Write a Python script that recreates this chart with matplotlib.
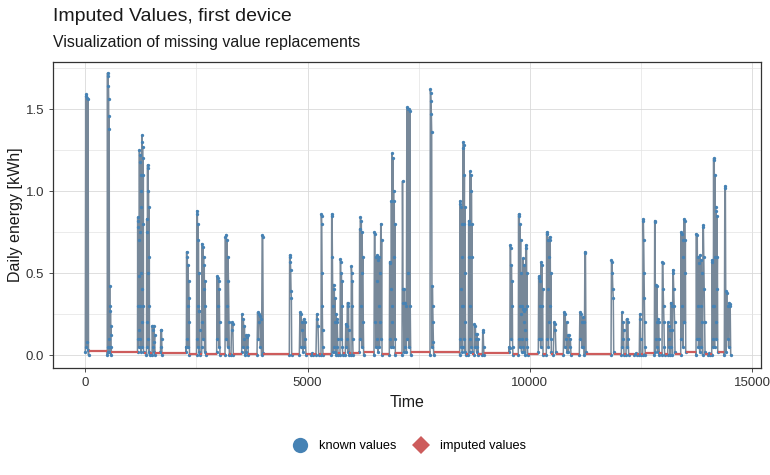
import numpy as np
import matplotlib
matplotlib.use('Agg')
import matplotlib.pyplot as plt
from matplotlib.lines import Line2D

plt.rcParams['font.family'] = ['Liberation Sans', 'DejaVu Sans']

# ── data ─────────────────────────────────────────────────────────────────────
# each burst of known readings: start / end time and the readings in order
burst_start = [0, 495, 1174, 1376, 1500, 1691, 2265, 2501, 2618, 2955,
               3142, 3277, 3517, 3862, 4588, 4813, 5076, 5188, 5301, 5533,
               5728, 5847, 5976, 6162, 6493, 6837, 7123, 7752, 8420, 8614,
               8742, 8929, 9529, 9738, 10188, 10368, 10525, 10750, 11110, 11823,
               12055, 12160, 12347, 12459, 12536, 12797, 12970, 13098, 13391, 13735,
               14005, 14088, 14371]
burst_end = [72, 585, 1309, 1444, 1568, 1725, 2343, 2580, 2708, 3029,
             3239, 3329, 3666, 4003, 4642, 4964, 5121, 5249, 5346, 5683,
             5789, 5937, 6021, 6261, 6673, 6972, 7318, 7836, 8555, 8704,
             8839, 8967, 9619, 9950, 10294, 10480, 10586, 10923, 11261, 11884,
             12115, 12221, 12401, 12498, 12594, 12909, 13031, 13262, 13503, 13937,
             14050, 14223, 14515]
burst_values = [
    [0.02, 1.58, 0.05, 1.59, 0.08, 1.57, 0.03, 1.56, 0.0],
    [0.0, 1.72, 0.02, 1.70, 0.05, 1.64, 1.56, 0.10, 1.46, 1.38, 0.02, 0.42, 0.05, 0.30, 0.02, 0.27, 0.12, 0.18, 0.0, 0.05],
    [0.02, 0.84, 0.10, 0.82, 0.30, 0.78, 0.05, 0.70, 0.48, 0.15, 1.25, 0.30, 1.22, 0.10, 1.18, 0.75, 1.10, 0.02, 1.00, 0.50,
     0.90, 0.20, 1.34, 0.40, 1.30, 0.05, 1.27, 0.80, 1.20, 0.30, 1.10, 0.02],
    [0.0, 0.83, 0.20, 0.75, 0.05, 1.16, 0.50, 1.14, 0.10, 1.00, 0.30, 0.90, 0.02, 0.60, 0.0],
    [0.0, 0.18, 0.05, 0.15, 0.02, 0.18, 0.08, 0.12, 0.0],
    [0.02, 0.15, 0.05, 0.15, 0.10, 0.0],
    [0.05, 0.02, 0.63, 0.10, 0.60, 0.30, 0.55, 0.05, 0.45, 0.20, 0.35, 0.0],
    [0.0, 0.88, 0.10, 0.86, 0.30, 0.80, 0.05, 0.70, 0.27, 0.50, 0.02, 0.27, 0.15, 0.0],
    [0.05, 0.68, 0.20, 0.66, 0.10, 0.60, 0.40, 0.55, 0.02, 0.45, 0.30, 0.0],
    [0.02, 0.48, 0.10, 0.47, 0.30, 0.45, 0.05, 0.40, 0.20, 0.0],
    [0.0, 0.72, 0.10, 0.735, 0.30, 0.70, 0.05, 0.60, 0.45, 0.20, 0.0],
    [0.0, 0.20, 0.15, 0.19, 0.0],
    [0.02, 0.25, 0.05, 0.22, 0.10, 0.18, 0.0, 0.12, 0.02, 0.11, 0.05, 0.12, 0.0],
    [0.0, 0.26, 0.10, 0.25, 0.20, 0.24, 0.05, 0.22, 0.0, 0.73, 0.72, 0.01],
    [0.0, 0.61, 0.60, 0.57, 0.52, 0.39, 0.35, 0.0],
    [0.0, 0.26, 0.05, 0.25, 0.15, 0.20, 0.02, 0.22, 0.05, 0.20, 0.10, 0.0],
    [0.0, 0.01, 0.0],
    [0.0, 0.25, 0.22, 0.18, 0.0],
    [0.0, 0.86, 0.85, 0.80, 0.50, 0.30, 0.15, 0.05, 0.0],
    [0.0, 0.86, 0.85, 0.60, 0.30, 0.02, 0.43, 0.05, 0.40, 0.20, 0.35, 0.02, 0.25, 0.0, 0.22, 0.05, 0.20, 0.10, 0.0],
    [0.0, 0.585, 0.57, 0.10, 0.50, 0.30, 0.45, 0.05, 0.0],
    [0.0, 0.19, 0.05, 0.18, 0.10, 0.32, 0.02, 0.30, 0.15, 0.0],
    [0.0, 0.54, 0.50, 0.30, 0.45, 0.10, 0.0],
    [0.02, 0.77, 0.10, 0.84, 0.30, 0.82, 0.05, 0.75, 0.50, 0.60, 0.20, 0.0],
    [0.0, 0.75, 0.74, 0.20, 0.60, 0.05, 0.45, 0.10, 0.61, 0.02, 0.58, 0.30, 0.60, 0.05, 0.50, 0.20, 0.80, 0.10, 0.70, 0.0],
    [0.0, 0.57, 0.56, 0.10, 0.40, 0.05, 0.94, 0.20, 1.23, 0.30, 1.20, 0.05, 1.00, 0.60, 0.94, 0.10, 0.80, 0.0],
    [0.0, 1.06, 0.40, 0.32, 0.02, 0.40, 0.05, 0.32, 0.30, 0.02, 1.51, 0.10, 1.50, 0.50, 1.50, 0.05, 1.49, 0.30, 0.0],
    [0.0, 1.62, 1.60, 1.55, 1.47, 1.36, 0.05, 0.42, 0.30, 0.20, 0.08, 0.0],
    [0.0, 0.94, 0.10, 0.92, 0.40, 0.90, 0.05, 0.80, 0.60, 0.30, 0.02, 0.05, 1.26, 0.30, 1.30, 0.10, 1.28, 0.80, 1.10, 0.02,
     0.90, 0.50, 0.20, 0.0],
    [0.0, 0.82, 0.80, 0.60, 0.02, 0.10, 1.12, 0.30, 1.10, 0.05, 1.00, 0.60, 0.80, 0.02],
    [0.0, 0.187, 0.05, 0.18, 0.10, 0.13, 0.02, 0.13, 0.05, 0.10, 0.0],
    [0.0, 0.15, 0.14, 0.05, 0.0],
    [0.05, 0.02, 0.04, 0.67, 0.65, 0.10, 0.55, 0.30, 0.45, 0.05, 0.0],
    [0.0, 0.86, 0.10, 0.85, 0.30, 0.80, 0.05, 0.70, 0.25, 0.50, 0.02, 0.30, 0.10, 0.28, 0.05, 0.59, 0.20, 0.27, 0.02, 0.55,
     0.15, 0.28, 0.0, 0.67, 0.10, 0.65, 0.30, 0.50, 0.05, 0.0],
    [0.02, 0.48, 0.10, 0.47, 0.30, 0.45, 0.05, 0.565, 0.10, 0.55, 0.30, 0.40, 0.0],
    [0.0, 0.75, 0.10, 0.74, 0.40, 0.70, 0.05, 0.60, 0.20, 0.72, 0.30, 0.70, 0.10, 0.50, 0.02],
    [0.0, 0.20, 0.19, 0.15, 0.02],
    [0.0, 0.26, 0.05, 0.25, 0.10, 0.20, 0.02, 0.12, 0.02, 0.12, 0.05, 0.10, 0.0],
    [0.0, 0.26, 0.10, 0.25, 0.20, 0.05, 0.23, 0.05, 0.20, 0.0, 0.63, 0.62, 0.02],
    [0.0, 0.58, 0.57, 0.50, 0.40, 0.35, 0.02],
    [0.0, 0.26, 0.05, 0.20, 0.10, 0.15, 0.0],
    [0.0, 0.22, 0.05, 0.20, 0.10, 0.0],
    [0.0, 0.01, 0.0],
    [0.0, 0.25, 0.22, 0.10, 0.0],
    [0.0, 0.83, 0.82, 0.70, 0.50, 0.35, 0.20, 0.05, 0.0],
    [0.0, 0.82, 0.81, 0.02, 0.10, 0.43, 0.05, 0.42, 0.20, 0.22, 0.02, 0.20, 0.10, 0.0],
    [0.0, 0.565, 0.56, 0.40, 0.30, 0.20, 0.05, 0.0],
    [0.0, 0.20, 0.05, 0.18, 0.10, 0.15, 0.0, 0.32, 0.05, 0.30, 0.15, 0.0, 0.52, 0.50, 0.40, 0.30, 0.20, 0.02],
    [0.0, 0.75, 0.10, 0.74, 0.30, 0.70, 0.05, 0.60, 0.20, 0.83, 0.20, 0.82, 0.50, 0.70, 0.02],
    [0.0, 0.74, 0.10, 0.73, 0.30, 0.60, 0.05, 0.10, 0.56, 0.02, 0.61, 0.30, 0.58, 0.05, 0.50, 0.20, 0.0, 0.79, 0.78, 0.60,
     0.40, 0.20, 0.02],
    [0.0, 0.01, 0.0],
    [0.0, 0.58, 0.57, 0.30, 0.05, 0.10, 1.20, 0.30, 1.19, 0.05, 1.10, 0.60, 0.90, 0.20, 0.88, 0.10, 0.85, 0.40, 0.60, 0.02],
    [0.0, 1.03, 1.02, 0.02, 0.39, 0.38, 0.10, 0.30, 0.05, 0.32, 0.31, 0.30, 0.0],
]
# imputed level in the gap after each burst
gap_level = [0.024, 0.017, 0.012, 0.012, 0.010, 0.010, 0.006, 0.006, 0.006, 0.006,
             0.006, 0.006, 0.006, 0.006, 0.006, 0.006, 0.006, 0.006, 0.006, 0.010,
             0.010, 0.010, 0.010, 0.018, 0.008, 0.014, 0.018, 0.016, 0.008, 0.008,
             0.008, 0.014, 0.006, 0.006, 0.006, 0.006, 0.006, 0.006, 0.006, 0.006,
             0.006, 0.006, 0.006, 0.006, 0.010, 0.010, 0.006, 0.006, 0.020, 0.006,
             0.006, 0.016]

LINE_COLOR = '#778899'   # lightslategray
KNOWN_COLOR = '#4682B4'  # steelblue
IMP_COLOR = '#CD5C5C'    # indianred

# full series: bursts of known values joined by imputed gaps
known_t, known_v, all_t, all_v = [], [], [], []
for i, vals in enumerate(burst_values):
    t = np.linspace(burst_start[i], burst_end[i], len(vals))
    known_t.extend(t)
    known_v.extend(vals)
    all_t.extend(t)
    all_v.extend(vals)
    if i < len(gap_level):
        all_t.extend([burst_end[i], burst_start[i + 1]])
        all_v.extend([gap_level[i], gap_level[i]])

fig = plt.figure(figsize=(7.7, 4.75), dpi=100)
ax = fig.add_axes([0.0692, 0.2246, 0.9191, 0.6449])

ax.set_xlim(-720, 15196)
ax.set_ylim(-0.081, 1.787)
ax.set_xticks([0, 5000, 10000, 15000])
ax.set_xticks([2500, 7500, 12500], minor=True)
ax.set_yticks([0.0, 0.5, 1.0, 1.5])
ax.set_yticks([0.25, 0.75, 1.25, 1.75], minor=True)
ax.set_yticklabels(['0.0', '0.5', '1.0', '1.5'])
ax.grid(which='major', color='#d9d9d9', linewidth=0.6)
ax.grid(which='minor', color='#e3e3e3', linewidth=0.5)
ax.set_axisbelow(True)
ax.tick_params(which='minor', length=0)
ax.tick_params(which='major', length=3, width=0.6, colors='#333333',
               labelsize=9.5, labelcolor='#333333')
for sp in ax.spines.values():
    sp.set_color('#333333')
    sp.set_linewidth(0.9)

ax.plot(all_t, all_v, color=LINE_COLOR, linewidth=1.1, zorder=2)
ax.plot(known_t, known_v, linestyle='none', marker='o', markersize=2.4,
        markeredgewidth=0, color=KNOWN_COLOR, zorder=3)
ax.hlines(gap_level, burst_end[:-1], burst_start[1:], color=IMP_COLOR,
          linewidth=1.6, zorder=4)

ax.set_xlabel('Time', fontsize=11.5, color='#1a1a1a', labelpad=4)
ax.set_ylabel('Daily energy [kWh]', fontsize=11.5, color='#1a1a1a', labelpad=2)

fig.text(0.069, 0.966, 'Imputed Values, first device', fontsize=14,
         color='#1a1a1a', ha='left', va='center')
fig.text(0.069, 0.911, 'Visualization of missing value replacements', fontsize=11.4,
         color='#1a1a1a', ha='left', va='center')

handles = [Line2D([], [], linestyle='none', marker='o', markersize=11,
                  markeredgewidth=0, color=KNOWN_COLOR, label='known values'),
           Line2D([], [], linestyle='none', marker='D', markersize=9,
                  markeredgewidth=0, color=IMP_COLOR, label='imputed values')]
fig.legend(handles=handles, loc='center', bbox_to_anchor=(0.528, 0.061), ncol=2,
           frameon=False, fontsize=9.2, handletextpad=0.5, columnspacing=0.9)

fig.savefig('out.png', dpi=100)
